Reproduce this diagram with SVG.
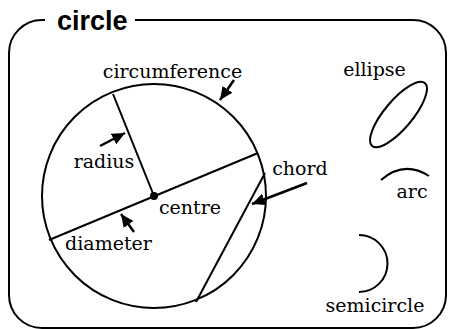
<svg xmlns="http://www.w3.org/2000/svg" width="451" height="329" viewBox="0 0 451 329">
  <style>
    .ln{fill:none;stroke:#000;stroke-width:2}
    .lbl{font-family:"DejaVu Serif","Liberation Serif",serif;font-size:19px;fill:#000;text-anchor:middle}
    .ttl{font-family:"Liberation Sans",Arial,sans-serif;font-size:27px;font-weight:bold;fill:#000}
    .arr{fill:none;stroke:#000;stroke-width:2.5;marker-end:url(#ah)}
  </style>
  <defs>
    <marker id="ah" markerUnits="userSpaceOnUse" markerWidth="14" markerHeight="12" refX="13" refY="6" orient="auto">
      <path d="M0,0 L13,6 L0,12 Z" fill="#000"/>
    </marker>
  </defs>
  <rect width="451" height="329" fill="#fff"/>
  <g id="frame">
    <path class="ln" d="M45,20 H42 A33,33 0 0 0 9,53 V295 A33,33 0 0 0 42,328 H413 A33,33 0 0 0 446,295 V53 A33,33 0 0 0 413,20 H135"/>
    <text class="ttl" x="57" y="30">circle</text>
  </g>
  <g id="circle">
    <circle class="ln" cx="154" cy="196" r="112"/>
    <line class="ln" x1="113" y1="94" x2="154" y2="196"/>
    <line class="ln" x1="49" y1="240" x2="258" y2="153"/>
    <line class="ln" x1="265" y1="173" x2="196" y2="302"/>
    <circle cx="154" cy="196" r="4" fill="#000"/>
  </g>
  <g id="labels">
    <text class="lbl" x="172.5" y="78">circumference</text>
    <text class="lbl" x="104" y="168">radius</text>
    <text class="lbl" x="190" y="214">centre</text>
    <text class="lbl" x="108.5" y="250">diameter</text>
    <text class="lbl" x="300" y="175">chord</text>
  </g>
  <g id="ellipse">
    <ellipse class="ln" cx="398.5" cy="114.5" rx="41" ry="14" transform="rotate(-50 398.5 114.5)"/>
    <text class="lbl" x="374.5" y="76">ellipse</text>
  </g>
  <g id="arc">
    <path class="ln" d="M381,180 Q404,160 429,176"/>
    <text class="lbl" x="412" y="198">arc</text>
  </g>
  <g id="semicircle">
    <path class="ln" d="M359,235 A28.5,28.5 0 0 1 359,292"/>
    <text class="lbl" x="375" y="312">semicircle</text>
  </g>
  <g id="connectors">
    <line class="arr" x1="234" y1="80" x2="220" y2="100"/>
    <line class="arr" x1="100" y1="146" x2="125" y2="133"/>
    <line class="arr" x1="134" y1="232" x2="121" y2="214"/>
    <line class="arr" x1="307" y1="183" x2="252" y2="204"/>
  </g>
</svg>
